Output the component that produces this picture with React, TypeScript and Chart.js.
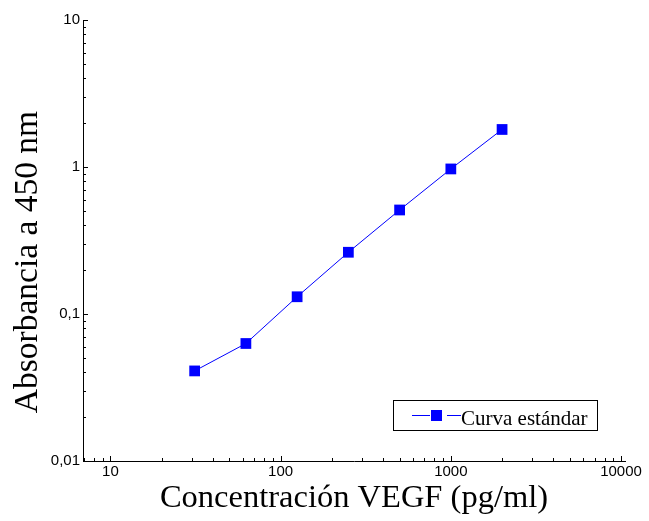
import { useEffect, useRef } from 'react';
import { Chart, registerables } from 'chart.js';

Chart.register(...registerables);

// Standard curve: VEGF concentration (pg/ml) vs absorbance at 450 nm
const concentrations = [31.25, 62.5, 125, 250, 500, 1000, 2000];
const absorbance = [0.041, 0.063, 0.131, 0.263, 0.51, 0.97, 1.8];

const xTickValues = [10, 100, 1000, 10000];
const xTickLabels = ['10', '100', '1000', '10000'];
const yTickValues = [0.01, 0.1, 1, 10];
const yTickLabels = ['0,01', '0,1', '1', '10'];

const seriesLabel = 'Curva estándar';
const xTitle = 'Concentración VEGF (pg/ml)';
const yTitle = 'Absorbancia a 450 nm';

const BLUE = '#0000ff';
const SERIF = '"Liberation Serif", "Times New Roman", serif';
const SANS = 'Arial, "Liberation Sans", sans-serif';

// Inward major/minor tick marks, axis titles and the boxed legend
const decorPlugin = {
  id: 'decor',
  afterDraw(chart: any) {
    const { ctx, chartArea } = chart;
    const x = chart.scales.x;
    const y = chart.scales.y;
    ctx.save();
    ctx.strokeStyle = '#000';
    ctx.lineWidth = 1;

    for (let e = -3; e <= 5; e++) {
      for (let k = 1; k <= 9; k++) {
        const v = k * Math.pow(10, e);
        const len = k === 1 ? 5 : 3;
        if (v >= x.min && v <= x.max) {
          const px = Math.round(x.getPixelForValue(v)) + 0.5;
          ctx.beginPath();
          ctx.moveTo(px, chartArea.bottom);
          ctx.lineTo(px, chartArea.bottom - len);
          ctx.stroke();
        }
        if (v >= y.min && v <= y.max) {
          const py = Math.round(y.getPixelForValue(v)) + 0.5;
          ctx.beginPath();
          ctx.moveTo(chartArea.left, py);
          ctx.lineTo(chartArea.left + len, py);
          ctx.stroke();
        }
      }
    }

    // axis titles
    ctx.fillStyle = '#000';
    ctx.font = `32.5px ${SERIF}`;
    ctx.textAlign = 'center';
    ctx.textBaseline = 'alphabetic';
    ctx.fillText(xTitle, (chartArea.left + chartArea.right) / 2, 507);

    ctx.save();
    ctx.font = `33.5px ${SERIF}`;
    ctx.translate(37, 262);
    ctx.rotate(-Math.PI / 2);
    ctx.fillText(yTitle, 0, 0);
    ctx.restore();

    // legend box
    const bx = 393.5, by = 400.5, bw = 204, bh = 30;
    ctx.fillStyle = '#fff';
    ctx.fillRect(bx, by, bw, bh);
    ctx.strokeStyle = '#000';
    ctx.strokeRect(bx, by, bw, bh);
    const ly = 415.5;
    ctx.strokeStyle = BLUE;
    ctx.beginPath();
    ctx.moveTo(412, ly);
    ctx.lineTo(430, ly);
    ctx.moveTo(447, ly);
    ctx.lineTo(461, ly);
    ctx.stroke();
    ctx.fillStyle = BLUE;
    ctx.fillRect(431, ly - 5.5, 11, 11);
    ctx.fillStyle = '#000';
    ctx.font = `21px ${SERIF}`;
    ctx.textAlign = 'left';
    ctx.fillText(chart.data.datasets[0].label, 461, 425);

    ctx.restore();
  },
};

export default function App() {
  const canvasRef = useRef<HTMLCanvasElement | null>(null);

  useEffect(() => {
    const canvas = canvasRef.current;
    if (!canvas) return;
    const chart = new Chart(canvas, {
      type: 'line',
      data: {
        datasets: [
          {
            label: seriesLabel,
            data: concentrations.map((c, i) => ({ x: c, y: absorbance[i] })),
            borderColor: BLUE,
            backgroundColor: BLUE,
            borderWidth: 1,
            pointStyle: 'rect',
            pointRadius: 7.6,
            pointBorderWidth: 0,
            pointBackgroundColor: BLUE,
            tension: 0,
          },
        ],
      },
      options: {
        animation: false,
        responsive: false,
        devicePixelRatio: 1,
        layout: { padding: { top: 20, right: 24, left: 0, bottom: 0 } },
        plugins: {
          legend: { display: false },
          tooltip: { enabled: false },
        },
        scales: {
          x: {
            type: 'logarithmic',
            min: 6.9,
            max: 10550,
            grid: { display: false, drawTicks: false },
            border: { display: true, color: '#000', width: 1 },
            ticks: {
              color: '#000',
              font: { family: SANS, size: 15 },
              padding: 2,
              autoSkip: false,
              maxRotation: 0,
              callback: (v: any) => xTickLabels[xTickValues.indexOf(Number(v))] ?? '',
            },
            afterBuildTicks: (s: any) => {
              s.ticks = xTickValues.map((v) => ({ value: v }));
            },
            afterFit: (s: any) => {
              s.height = 60;
            },
          },
          y: {
            type: 'logarithmic',
            min: 0.01,
            max: 10,
            grid: { display: false, drawTicks: false },
            border: { display: true, color: '#000', width: 1 },
            ticks: {
              color: '#000',
              font: { family: SANS, size: 15 },
              padding: 3,
              autoSkip: false,
              callback: (v: any) => {
                const i = yTickValues.findIndex((t) => Math.abs(t - Number(v)) < t * 1e-6);
                return i >= 0 ? yTickLabels[i] : '';
              },
            },
            afterBuildTicks: (s: any) => {
              s.ticks = yTickValues.map((v) => ({ value: v }));
            },
            afterFit: (s: any) => {
              s.width = 83;
            },
          },
        },
      },
      plugins: [decorPlugin],
    });
    return () => chart.destroy();
  }, []);

  return (
    <div style={{ position: 'absolute', left: 0, top: 0, width: 649, height: 521, background: '#fff' }}>
      <canvas ref={canvasRef} width={649} height={521} />
    </div>
  );
}
